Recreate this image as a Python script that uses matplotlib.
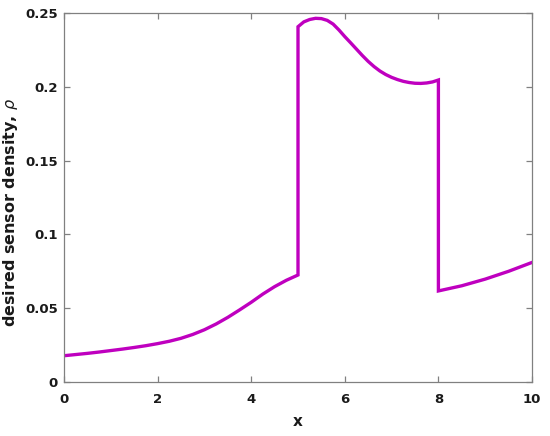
import matplotlib
matplotlib.use("Agg")
import matplotlib.pyplot as plt

# Left segment (0..5)
x_left = [0, 0.25, 0.5, 0.75, 1.0, 1.25, 1.5, 1.75, 2.0, 2.25, 2.5, 2.75,
          3.0, 3.25, 3.5, 3.75, 4.0, 4.25, 4.5, 4.75, 5.0]
y_left = [0.0178, 0.0186, 0.0194, 0.0203, 0.0213, 0.0223, 0.0234, 0.0246,
          0.0260, 0.0276, 0.0296, 0.0322, 0.0354, 0.0393, 0.0438, 0.0488,
          0.0540, 0.0596, 0.0646, 0.0689, 0.0725]
# Middle segment (5..8)
x_mid = [5.0, 5.125, 5.25, 5.375, 5.5, 5.625, 5.75, 5.875, 6.0, 6.125, 6.25,
         6.375, 6.5, 6.625, 6.75, 6.875, 7.0, 7.125, 7.25, 7.375, 7.5, 7.625,
         7.75, 7.875, 8.0]
y_mid = [0.2407, 0.2440, 0.2456, 0.2464, 0.2462, 0.2450, 0.2425, 0.2385,
         0.2340, 0.2298, 0.2255, 0.2212, 0.2172, 0.2137, 0.2107, 0.2083,
         0.2064, 0.2049, 0.2037, 0.2029, 0.2024, 0.2023, 0.2026, 0.2033,
         0.2046]
# Right segment (8..10)
x_right = [8.0, 8.5, 9.0, 9.5, 10.0]
y_right = [0.0617, 0.0652, 0.0697, 0.0750, 0.0810]

x_ticks = [0, 2, 4, 6, 8, 10]
y_ticks = [0, 0.05, 0.1, 0.15, 0.2, 0.25]
y_tick_labels = ["0", "0.05", "0.1", "0.15", "0.2", "0.25"]

plt.rcParams['font.family'] = ['DejaVu Sans']

fig = plt.figure(figsize=(5.5, 4.36), dpi=100)
ax = fig.add_axes([64/550, 1-382/436, (532-64)/550, (382-13)/436])

xs = x_left + x_mid + x_right
ys = y_left + y_mid + y_right
ax.plot(xs, ys, color='#BF00BF', linewidth=2.4, solid_joinstyle='miter')

ax.set_xlim(0, 10)
ax.set_ylim(0, 0.25)
ax.set_xticks(x_ticks)
ax.set_xticklabels([str(t) for t in x_ticks])
ax.set_yticks(y_ticks)
ax.set_yticklabels(y_tick_labels)

gray = '#808080'
for s in ax.spines.values():
    s.set_color(gray)
    s.set_linewidth(0.9)
ax.tick_params(direction='in', top=True, right=True, length=4, width=0.9,
               color=gray, labelsize=9.5)
ax.tick_params(axis='x', pad=8)
ax.tick_params(axis='y', pad=4.5)
for lab in ax.get_xticklabels() + ax.get_yticklabels():
    lab.set_fontweight('bold')
    lab.set_color('#1a1a1a')

ax.set_xlabel('x', fontsize=11, fontweight='bold', color='#1a1a1a', labelpad=6)
ax.set_ylabel(r'desired sensor density, $\rho$', fontsize=11.5,
              fontweight='bold', color='#1a1a1a')
ax.yaxis.set_label_coords(-(64 - 20) / 468, (382 - 212) / 369)

fig.savefig('out.png', dpi=100)
